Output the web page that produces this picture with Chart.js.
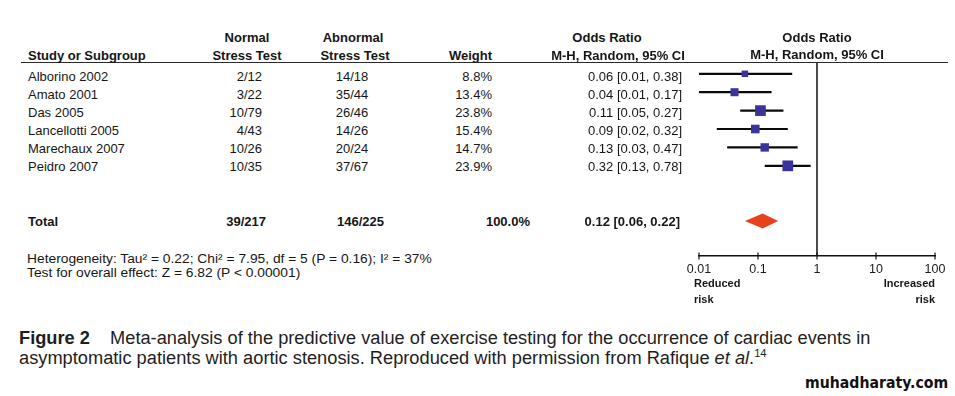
<!DOCTYPE html>
<html>
<head>
<meta charset="utf-8">
<script src="https://cdn.jsdelivr.net/npm/chart.js@4.4.1/dist/chart.umd.min.js"></script>
<style>
  body { margin: 0; width: 955px; height: 396px; overflow: hidden; position: relative; background: #fff;
         font-family: "Liberation Sans", Arial, sans-serif; color: #161616; }
  .t { position: absolute; font-size: 13px; line-height: 14px; white-space: nowrap; }
  .b { font-weight: bold; }
  .s { font-size: 11px; }
  .st { position: absolute; left: 27px; font-size: 12.5px; line-height: 13px; white-space: nowrap; transform-origin: 0 50%; }
  #rule { position: absolute; left: 21px; top: 62px; width: 927px; height: 0; border-top: 1.5px solid #2a2a2a; }
  #plot { position: absolute; left: 680px; top: 40px; }
  .cap { position: absolute; left: 19px; font-size: 18px; line-height: 20px; white-space: nowrap; color: #1e1e1e;
         transform-origin: 0 50%; }
  .cap sup { font-size: 11px; line-height: 0; }
  #site { position: absolute; top: 374px; font-family: "DejaVu Sans", sans-serif; font-weight: bold; font-size: 15px;
          line-height: 18px; white-space: nowrap; color: #111; transform-origin: 0 50%; }
</style>
</head>
<body>
<div id="rule"></div>
<canvas id="plot" width="275" height="270"></canvas>
<div class="st" id="het" style="top:253px"></div>
<div class="st" id="eff" style="top:267px"></div>
<div class="cap" id="cap1" style="top:328px"><b>Figure 2</b>&nbsp;&nbsp;&nbsp; Meta-analysis of the predictive value of exercise testing for the occurrence of cardiac events in</div>
<div class="cap" id="cap2" style="top:348px">asymptomatic patients with aortic stenosis. Reproduced with permission from Rafique <i>et al</i>.<sup>14</sup></div>
<div id="site">muhadharaty.com</div>

<script>
// study rows
const studies = ['Alborino 2002', 'Amato 2001', 'Das 2005', 'Lancellotti 2005', 'Marechaux 2007', 'Peidro 2007'];
const normalTest = ['2/12', '3/22', '10/79', '4/43', '10/26', '10/35'];
const abnormalTest = ['14/18', '35/44', '26/46', '14/26', '20/24', '37/67'];
const weights = [8.8, 13.4, 23.8, 15.4, 14.7, 23.9];
const oddsRatio = [0.06, 0.04, 0.11, 0.09, 0.13, 0.32];
const ciLow = [0.01, 0.01, 0.05, 0.02, 0.03, 0.13];
const ciHigh = [0.38, 0.17, 0.27, 0.32, 0.47, 0.78];

// pooled result
const totalNormal = '39/217';
const totalAbnormal = '146/225';
const totalWeight = 100.0;
const totalOR = 0.12;
const totalLow = 0.06;
const totalHigh = 0.22;
const totalRow = 8;

const xTicks = [0.01, 0.1, 1, 10, 100];

const heterogeneity = 'Heterogeneity: Tau\u00b2 = 0.22; Chi\u00b2 = 7.95, df = 5 (P = 0.16); I\u00b2 = 37%';
const overallEffect = 'Test for overall effect: Z = 6.82 (P < 0.00001)';

function put(txt, x, y, align, cls) {
    const d = document.createElement('div');
    d.className = 't ' + (cls || '');
    d.textContent = txt;
    d.style.left = x + 'px';
    d.style.top = (y - 7) + 'px';
    if (align === 'right') d.style.transform = 'translateX(-100%)';
    if (align === 'center') d.style.transform = 'translateX(-50%)';
    document.body.appendChild(d);
    return d;
}

const fmt = (v) => v.toFixed(2);

// header
put('Normal', 247, 38, 'center', 'b');
put('Stress Test', 247, 56, 'center', 'b');
put('Abnormal', 353, 38, 'center', 'b');
put('Stress Test', 355, 56, 'center', 'b');
put('Study or Subgroup', 28, 56, 'left', 'b');
put('Weight', 492, 56, 'right', 'b');
put('Odds Ratio', 607, 38, 'center', 'b');
put('M-H, Random, 95% CI', 618, 56, 'center', 'b');
put('Odds Ratio', 817, 38, 'center', 'b');
put('M-H, Random, 95% CI', 817, 55, 'center', 'b');

studies.forEach((s, i) => {
    const y = 77 + 18 * i;
    put(s, 28, y);
    put(normalTest[i], 262, y, 'right');
    put(abnormalTest[i], 352, y, 'center');
    put(weights[i].toFixed(1) + '%', 492, y, 'right');
    put(`${fmt(oddsRatio[i])} [${fmt(ciLow[i])}, ${fmt(ciHigh[i])}]`, 682, y, 'right');
});

put('Total', 28, 222, 'left', 'b');
put(totalNormal, 266, 222, 'right', 'b');
put(totalAbnormal, 337, 222, 'left', 'b');
put(totalWeight.toFixed(1) + '%', 530, 222, 'right', 'b');
put(`${fmt(totalOR)} [${fmt(totalLow)}, ${fmt(totalHigh)}]`, 680, 222, 'right', 'b');

document.getElementById('het').textContent = heterogeneity;
document.getElementById('eff').textContent = overallEffect;

put('Reduced', 694, 283, 'left', 'b s');
put('risk', 694, 299, 'left', 'b s');
put('Increased', 935, 283, 'right', 'b s');
put('risk', 935, 299, 'right', 'b s');

// stretch / squeeze text lines to the width they take in the figure
function fit(id, w, left) {
    const el = document.getElementById(id);
    const k = w / el.scrollWidth;
    el.style.transform = `scaleX(${k})`;
    if (left !== undefined) el.style.left = left + 'px';
    return k;
}
fit('cap1', 851);
fit('cap2', 748);
fit('site', 143, 805);
const k = fit('het', 405);
document.getElementById('eff').style.transform = `scaleX(${k})`;

const forestExtras = {
    id: 'forestExtras',
    beforeDatasetsDraw(chart) {
        const { ctx, chartArea, scales: { x } } = chart;
        const px = x.getPixelForValue(1);
        ctx.save();
        ctx.strokeStyle = '#111';
        ctx.lineWidth = 1.5;
        ctx.beginPath();
        ctx.moveTo(px, chartArea.top - 1);
        ctx.lineTo(px, chartArea.bottom);
        ctx.stroke();
        ctx.restore();
    },
    afterDraw(chart) {
        const { ctx, chartArea, scales: { x, y } } = chart;
        ctx.save();
        // diamond for the pooled estimate
        const yc = y.getPixelForValue(totalRow);
        ctx.fillStyle = '#e8421c';
        ctx.beginPath();
        ctx.moveTo(x.getPixelForValue(totalLow), yc);
        ctx.lineTo(x.getPixelForValue(totalOR), yc - 7.5);
        ctx.lineTo(x.getPixelForValue(totalHigh), yc);
        ctx.lineTo(x.getPixelForValue(totalOR), yc + 7.5);
        ctx.closePath();
        ctx.fill();
        // cross ticks on the axis
        ctx.strokeStyle = '#111';
        ctx.lineWidth = 1.2;
        xTicks.forEach(v => {
            const px = x.getPixelForValue(v);
            ctx.beginPath();
            ctx.moveTo(px, chartArea.bottom - 3.5);
            ctx.lineTo(px, chartArea.bottom + 3.5);
            ctx.stroke();
        });
        ctx.restore();
    }
};

const datasets = [{
    data: studies.map((s, i) => ({ x: oddsRatio[i], y: i })),
    pointStyle: 'rect',
    pointRadius: weights.map(w => Math.sqrt(w) * 1.55),
    backgroundColor: '#3b339b',
    borderWidth: 0
}];
studies.forEach((s, i) => {
    datasets.push({
        data: [{ x: ciLow[i], y: i }, { x: ciHigh[i], y: i }],
        showLine: true,
        borderColor: '#0a0a0a',
        borderWidth: 2.2,
        pointRadius: 0
    });
});

new Chart(document.getElementById('plot'), {
    type: 'scatter',
    data: { datasets },
    options: {
        responsive: false,
        animation: false,
        layout: { padding: { left: 19, right: 20, top: 24, bottom: 0 } },
        plugins: { legend: { display: false }, tooltip: { enabled: false } },
        scales: {
            x: {
                type: 'logarithmic',
                min: 0.01,
                max: 100,
                afterBuildTicks: (s) => { s.ticks = xTicks.map(v => ({ value: v })); },
                afterFit: (s) => { s.height = 54; },
                grid: { display: false, drawTicks: false },
                border: { display: true, color: '#111', width: 1.5 },
                ticks: {
                    padding: 6,
                    autoSkip: false,
                    maxRotation: 0,
                    color: '#1a1a1a',
                    font: { family: '"Liberation Sans", Arial, sans-serif', size: 12.5 },
                    callback: (v) => String(v)
                }
            },
            y: {
                display: false,
                reverse: true,
                min: -0.533,
                max: 9.9
            }
        }
    },
    plugins: [forestExtras]
});
</script>
</body>
</html>
